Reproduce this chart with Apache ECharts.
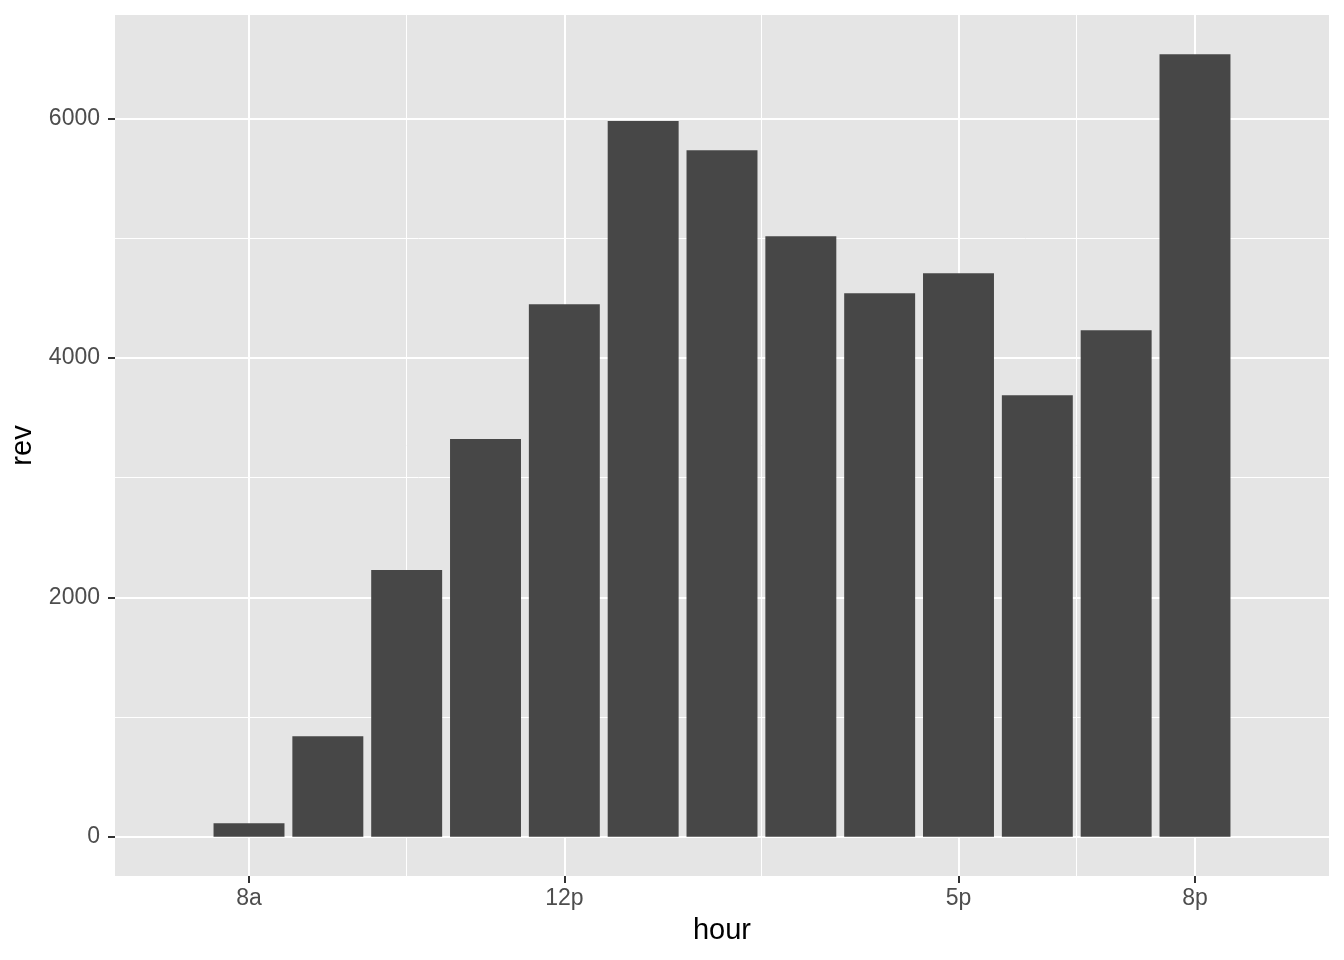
<!DOCTYPE html>
<html>
<head>
<meta charset="utf-8">
<script src="https://cdn.jsdelivr.net/npm/echarts@6/dist/echarts.min.js"></script>
<style>
html,body{margin:0;padding:0;background:#fff;}
#c{width:1344px;height:960px;}
</style>
</head>
<body>
<div id="c"></div>
<script>
// data
var hours = [8, 9, 10, 11, 12, 13, 14, 15, 16, 17, 18, 19, 20];
var rev = [114, 841, 2228, 3322, 4449, 5978, 5735, 5017, 4541, 4708, 3689, 4232, 6537];
var xTickValues = [8, 12, 17, 20];
var xTickLabels = ['8a', '12p', '5p', '8p'];
var xMinorValues = [10, 14.5, 18.5];
var yTickValues = [0, 2000, 4000, 6000];
var yMinorValues = [1000, 3000, 5000];

var FONT = '"Liberation Sans", Arial, Helvetica, sans-serif';
var chart = echarts.init(document.getElementById('c'), null, {renderer: 'canvas'});

var xMin = 6.3, xMax = 21.7, yMin = -327, yMax = 6864;

function vLines(vals, w) {
  return vals.map(function (v) { return {xAxis: v, lineStyle: {width: w}}; });
}
function hLines(vals, w) {
  return vals.map(function (v) { return {yAxis: v, lineStyle: {width: w}}; });
}

var gridW = 1344 - 115 - 15;
var barW = gridW / (xMax - xMin) * 0.9;

var option = {
  animation: false,
  backgroundColor: '#ffffff',
  grid: {left: 115, right: 15, top: 15, bottom: 84, show: true, backgroundColor: '#E5E5E5', borderWidth: 0,
         containLabel: false, outerBoundsMode: 'none'},
  xAxis: {
    type: 'value', min: xMin, max: xMax,
    name: 'hour', nameLocation: 'middle', nameGap: 40,
    nameTextStyle: {color: '#000', fontSize: 29, fontFamily: FONT},
    axisLine: {show: false, onZero: false},
    axisTick: {show: true, length: 7, lineStyle: {color: '#333333', width: 2}, customValues: xTickValues},
    axisLabel: {
      color: '#4D4D4D', fontSize: 23, fontFamily: FONT, margin: 11,
      customValues: xTickValues,
      formatter: function (v) { var i = xTickValues.indexOf(v); return i >= 0 ? xTickLabels[i] : ''; }
    },
    splitLine: {show: false}
  },
  yAxis: {
    type: 'value', min: yMin, max: yMax,
    name: 'rev', nameLocation: 'middle', nameGap: 57, nameRotate: 90,
    nameTextStyle: {color: '#000', fontSize: 29, fontFamily: FONT},
    axisLine: {show: false},
    axisTick: {show: true, length: 7, lineStyle: {color: '#333333', width: 2}, customValues: yTickValues},
    axisLabel: {color: '#4D4D4D', fontSize: 23, fontFamily: FONT, margin: 15, customValues: yTickValues,
                formatter: function (v) { return String(v); }},
    splitLine: {show: false}
  },
  series: [
    {
      type: 'line', data: [], z: 1, silent: true,
      markLine: {
        z: 1, silent: true, symbol: ['none', 'none'], label: {show: false},
        lineStyle: {color: '#ffffff', type: 'solid'},
        emphasis: {disabled: true},
        data: vLines(xMinorValues, 1).concat(hLines(yMinorValues, 1))
          .concat(vLines(xTickValues, 2)).concat(hLines(yTickValues, 2))
      }
    },
    {
      type: 'bar', z: 3, barWidth: barW,
      itemStyle: {color: '#474747'},
      data: hours.map(function (h, i) { return [h, rev[i]]; })
    }
  ]
};
chart.setOption(option);
</script>
</body>
</html>
